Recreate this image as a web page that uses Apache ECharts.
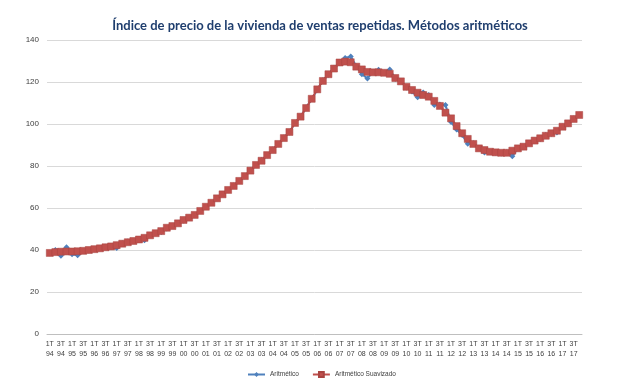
<!DOCTYPE html>
<html>
<head>
<meta charset="utf-8">
<script src="https://cdn.jsdelivr.net/npm/echarts@6/dist/echarts.min.js"></script>
<style>
html,body{margin:0;padding:0;background:#fff;}
#chart{width:640px;height:392px;}
</style>
</head>
<body>
<div id="chart"></div>
<script>
var titleText = 'Índice de precio de la vivienda de ventas repetidas. Métodos aritméticos';
var years = ['94','95','96','97','98','99','00','01','02','03','04','05','06','07','08','09','10','11','12','13','14','15','16','17'];
var quarters = ['1T','2T','3T','4T'];
var seriesNames = ['Aritmético', 'Aritmético Suavizado'];

var aritmetico = [
  38.5, 40.0, 37.3, 41.3, 38.0, 37.5, 39.5, 39.8,
  40.3, 40.7, 41.5, 41.6, 40.9, 43.2, 44.0, 44.2,
  45.2, 44.6, 47.0, 48.0, 48.6, 50.2, 51.5, 52.8,
  54.0, 55.5, 56.5, 58.4, 60.6, 62.4, 64.5, 66.6,
  68.5, 70.7, 72.8, 75.0, 78.0, 80.3, 82.8, 85.0,
  87.8, 90.3, 93.6, 96.0, 100.6, 103.3, 107.8, 111.8,
  116.3, 120.8, 123.4, 126.8, 129.0, 131.4, 132.2, 127.5,
  123.7, 121.7, 124.8, 125.8, 124.4, 125.9, 121.6, 120.5,
  117.4, 115.5, 112.7, 115.0, 113.8, 109.0, 109.3, 109.0,
  101.0, 97.4, 94.8, 90.6, 90.8, 88.6, 86.4, 86.6,
  86.3, 86.0, 86.6, 84.6, 88.6, 89.0, 91.0, 92.2,
  92.9, 94.8, 95.3, 96.0, 98.8, 100.0, 102.6, 104.4
];
var suavizado = [
  38.6, 39.0, 39.2, 39.3, 39.3, 39.4, 39.6, 40.0,
  40.4, 40.8, 41.3, 41.7, 42.3, 43.0, 43.7, 44.3,
  45.0, 45.8, 47.0, 48.0, 49.0, 50.6, 51.4, 52.7,
  54.3, 55.4, 56.7, 58.6, 60.6, 62.5, 64.6, 66.5,
  68.6, 70.5, 72.9, 75.2, 77.8, 80.5, 82.5, 85.2,
  87.6, 90.5, 93.3, 96.2, 100.5, 103.5, 107.6, 112.0,
  116.5, 120.5, 123.7, 126.4, 129.3, 129.7, 129.4, 127.3,
  126.0, 124.8, 124.6, 124.6, 124.4, 123.9, 121.9, 120.3,
  117.7, 116.2, 114.9, 113.8, 113.0, 111.0, 108.6, 105.4,
  102.7, 99.0, 95.6, 92.9, 90.5, 88.4, 87.6, 86.8,
  86.5, 86.3, 86.3, 87.3, 88.4, 89.2, 90.8, 92.1,
  93.2, 94.4, 95.6, 96.8, 98.7, 100.3, 102.4, 104.3
];

var categories = [];
years.forEach(function(y){ quarters.forEach(function(q){ categories.push(q + '\n' + y); }); });

var chart = echarts.init(document.getElementById('chart'), null, {renderer:'canvas'});
chart.setOption({
  animation: false,
  backgroundColor: '#ffffff',
  title: {
    text: titleText,
    left: 'center',
    top: 14,
    textStyle: {
      fontFamily: "Lato, 'Open Sans', sans-serif",
      fontSize: 13,
      fontWeight: 'bold',
      color: '#1F3E6E'
    }
  },
  legend: {
    bottom: 9,
    left: 242,
    itemWidth: 17,
    itemHeight: 6,
    itemGap: 13,
    textStyle: {fontSize: 6.5, color: '#404040', fontFamily: "'Liberation Sans', sans-serif"},
    data: seriesNames
  },
  grid: {left: 47, right: 58, top: 40, bottom: 58, containLabel: false},
  xAxis: {
    type: 'category',
    data: categories,
    boundaryGap: true,
    axisLine: {lineStyle: {color: '#BFBFBF'}},
    axisTick: {show: false},
    axisLabel: {interval: 1, fontSize: 7, color: '#404040', lineHeight: 10, margin: 5, fontFamily: "'Liberation Sans', sans-serif"}
  },
  yAxis: {
    type: 'value',
    min: 0, max: 140, interval: 20,
    axisLine: {show: false},
    axisTick: {show: false},
    splitLine: {lineStyle: {color: '#D9D9D9'}},
    axisLabel: {fontSize: 8, color: '#404040', margin: 8, fontFamily: "'Liberation Sans', sans-serif"}
  },
  series: [
    {
      name: seriesNames[0],
      type: 'line',
      data: aritmetico,
      symbol: 'diamond',
      symbolSize: 6,
      showAllSymbol: true,
      itemStyle: {color: '#4F81BD'},
      lineStyle: {color: '#4F81BD', width: 2},
      z: 2
    },
    {
      name: seriesNames[1],
      type: 'line',
      data: suavizado,
      symbol: 'rect',
      symbolSize: 7,
      showAllSymbol: true,
      itemStyle: {color: '#C0504D', borderColor: '#A94441', borderWidth: 0.5},
      lineStyle: {color: '#C0504D', width: 2},
      z: 3
    }
  ]
});
</script>
</body>
</html>
